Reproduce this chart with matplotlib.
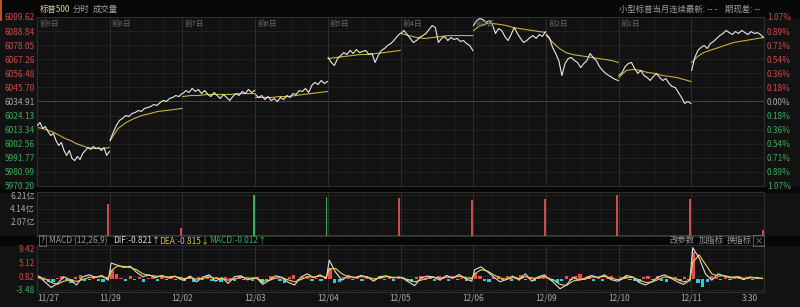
import matplotlib.pyplot as plt
import numpy as np
from matplotlib.patches import Rectangle
from matplotlib.lines import Line2D

plt.rcParams['font.family'] = ['Noto Sans CJK SC', 'DejaVu Sans']

# ---- data ----
days = ['11/27', '11/29', '12/02', '12/03', '12/04', '12/05', '12/06', '12/09', '12/10', '12/11']
day_tags = ['前9日', '前8日', '前7日', '前6日', '前5日', '前4日', '前3日', '前2日', '前1日']
prev_close = 6034.91

price_levels = [6099.62, 6088.84, 6078.05, 6067.26, 6056.48, 6045.70, 6034.91,
                6024.13, 6013.34, 6002.56, 5991.77, 5980.99, 5970.20]
price_labels = ['6099.62', '6088.84', '6078.05', '6067.26', '6056.48', '6045.70', '6034.91',
                '6024.13', '6013.34', '6002.56', '5991.77', '5980.99', '5970.20']
pct_labels = ['1.07%', '0.89%', '0.71%', '0.54%', '0.36%', '0.18%', '0.00%',
              '0.18%', '0.36%', '0.54%', '0.71%', '0.89%', '1.07%']

# 分时价格 (white) per day
price = [
    [6016.5, 6018.8, 6014.2, 6015.8, 6011.9, 6008.9, 6010.4, 6005.0, 6001.2, 6003.5, 5997.4, 5993.6, 5997.4, 5991.3,
     5989.7, 5992.8, 5990.5, 5995.1, 5997.4, 5999.7, 5998.2, 6000.5, 5998.9, 5999.7, 5997.4, 5999.7, 5993.6, 5996.6],
    [6005.0, 6011.2, 6016.5, 6020.4, 6021.9, 6024.2, 6023.4, 6025.7, 6026.5, 6028.0, 6027.3, 6029.6, 6030.3, 6031.1,
     6032.6, 6031.9, 6034.1, 6035.7, 6034.9, 6037.2, 6038.0, 6039.5, 6038.7, 6041.0],
    [6041.0, 6043.3, 6041.8, 6044.9, 6042.6, 6044.1, 6041.0, 6043.3, 6040.3, 6038.7, 6041.8, 6039.5, 6037.2, 6040.3,
     6038.0, 6035.7, 6038.7, 6041.0, 6039.5, 6042.6, 6041.0, 6044.1, 6041.8, 6043.3],
    [6040.3, 6038.0, 6039.5, 6036.4, 6038.7, 6035.7, 6037.2, 6034.9, 6038.0, 6036.4, 6039.5, 6038.0, 6041.0, 6040.3,
     6043.3, 6042.6, 6044.9, 6041.8, 6047.2, 6049.5, 6047.9, 6051.0, 6048.7, 6050.2],
    [6068.6, 6064.8, 6062.5, 6067.8, 6070.1, 6072.4, 6070.9, 6074.0, 6071.7, 6074.7, 6072.4, 6073.2, 6074.0, 6070.9,
     6071.7, 6064.8, 6070.1, 6074.0, 6075.5, 6077.8, 6079.3, 6081.6, 6084.7, 6087.0],
    [6087.0, 6089.3, 6086.2, 6083.2, 6080.1, 6081.6, 6083.9, 6085.4, 6087.0, 6090.0, 6093.1, 6091.6, 6080.1, 6083.2,
     6084.7, 6081.6, 6083.9, 6082.4, 6083.2, 6080.9, 6081.6, 6079.3, 6077.8, 6074.0],
    [6093.1, 6096.9, 6098.5, 6097.7, 6095.4, 6096.9, 6093.9, 6087.0, 6090.8, 6089.3, 6084.7, 6081.6, 6086.2, 6091.6,
     6087.0, 6083.2, 6080.1, 6081.6, 6083.9, 6085.4, 6083.2, 6086.2, 6084.7, 6088.5],
    [6086.2, 6083.9, 6076.3, 6071.7, 6066.3, 6054.8, 6064.0, 6067.8, 6068.6, 6066.3, 6064.8, 6060.9, 6064.0, 6066.3,
     6071.7, 6068.6, 6066.3, 6061.7, 6058.7, 6056.4, 6054.8, 6053.3, 6051.8, 6051.0],
    [6054.8, 6057.1, 6061.7, 6064.0, 6064.8, 6060.2, 6056.4, 6058.7, 6054.8, 6053.3, 6051.0, 6054.1, 6056.4, 6053.3,
     6051.0, 6052.5, 6048.7, 6046.4, 6045.6, 6041.8, 6038.0, 6033.4, 6034.9, 6033.4],
    [6058.7, 6068.6, 6074.0, 6076.3, 6077.8, 6075.5, 6079.3, 6080.9, 6083.2, 6085.4, 6087.0, 6089.3, 6087.7, 6086.2,
     6088.5, 6087.0, 6089.3, 6087.7, 6086.2, 6088.5, 6087.0, 6087.7, 6086.2, 6083.9],
]

# 均价 (yellow) per day
avg = [
    [6015.0, 6014.2, 6012.7, 6011.2, 6008.9, 6006.6, 6005.0, 6002.7, 6001.2, 5999.7, 5998.9, 5998.9, 5998.9, 5999.7],
    [6005.0, 6014.2, 6018.8, 6021.9, 6024.2, 6025.7, 6027.3, 6028.0, 6028.8, 6029.6],
    [6038.7, 6039.5, 6039.5, 6040.3, 6040.3, 6040.3, 6040.3, 6041.0, 6041.0, 6041.0],
    [6038.0, 6038.0, 6038.0, 6038.7, 6038.7, 6039.5, 6040.3, 6041.0, 6041.8, 6042.6],
    [6067.8, 6068.6, 6069.4, 6070.1, 6070.9, 6070.9, 6071.7, 6072.4, 6073.2, 6074.0],
    [6087.0, 6085.4, 6083.9, 6083.2, 6083.9, 6084.7, 6085.4, 6085.4, 6085.4, 6085.4],
    [6089.3, 6093.1, 6094.6, 6094.6, 6093.9, 6093.1, 6091.6, 6090.8, 6090.0, 6089.3, 6088.5, 6087.8],
    [6085.4, 6080.1, 6075.5, 6072.4, 6070.9, 6070.1, 6069.4, 6068.6, 6067.8, 6067.1, 6066.3, 6064.8],
    [6053.3, 6058.7, 6059.4, 6058.7, 6057.1, 6056.4, 6054.8, 6054.1, 6053.3, 6051.8, 6050.2],
    [6064.8, 6069.4, 6072.4, 6074.0, 6075.5, 6077.0, 6078.6, 6080.1, 6080.9, 6081.6, 6082.4, 6083.2, 6083.9],
]

# 成交量 (亿): closing spike of each day, and the thin base level
vol_close = [4.83, 1.15, 6.2, 5.9, 5.75, 5.45, 5.6, 6.2, 5.6, 0.85]
vol_up = [True, True, False, False, True, True, True, True, True, True]
base_vol = [0.12, 0.10, 0.10, 0.12, 0.10, 0.10, 0.12, 0.10, 0.12, 0.10]
vol_ticks = [2.07, 4.14, 6.21]
vol_labels = ['2.07亿', '4.14亿', '6.21亿']

# MACD (12,26,9)
dif = [
    [0.8, -1.0, -2.8, -1.5, 0.5, -0.3, -2.0, 0.6, 1.2, 0.4, 1.0, -0.5],
    [4.9, 4.2, 3.5, 3.9, 2.0, 0.6, 1.2, 0.3, 1.0, 0.2, 0.8, -0.3],
    [-0.5, 0.8, -1.0, 0.5, 1.2, -0.8, 0.3, -1.5, 0.6, 0.9, -0.4, 0.2],
    [0.2, -1.8, -0.5, 0.9, 0.4, -1.2, -2.0, 0.5, 1.5, 0.3, 1.2, 0.0],
    [5.8, 2.0, -0.5, 0.8, 0.2, 1.0, 0.5, -0.8, 0.6, 0.9, 0.2, 0.5],
    [0.3, -1.0, -2.2, 0.2, 0.8, 0.5, -0.5, 1.0, 0.2, 1.3, 0.0, -0.8],
    [2.8, 3.7, 2.2, 0.5, -1.0, -0.3, 0.8, -0.5, 1.5, -0.8, 0.5, 1.2],
    [0.3, -1.2, -3.2, -2.0, 0.4, -0.5, 0.2, 1.0, 0.3, 1.2, -0.3, -0.8],
    [-0.5, 1.0, 0.5, -1.2, -2.0, -1.0, 0.5, 1.2, 0.2, -1.0, -1.8, -0.5],
    [9.7, 6.5, 1.5, -0.5, 1.5, 0.8, 0.2, 0.6, -0.3, 0.5, 0.2, 0.0],
]
dea = [
    [0.5, 0.0, -1.2, -1.8, -0.8, -0.4, -0.9, -0.3, 0.4, 0.5, 0.6, 0.1],
    [2.5, 4.0, 3.8, 3.5, 2.8, 1.5, 1.0, 0.8, 0.7, 0.5, 0.6, 0.3],
    [0.0, 0.3, -0.2, 0.1, 0.5, 0.1, 0.0, -0.5, -0.1, 0.4, 0.2, 0.1],
    [0.1, -0.8, -0.6, 0.2, 0.3, -0.4, -1.0, -0.3, 0.6, 0.5, 0.8, 0.4],
    [3.0, 3.2, 1.5, 0.6, 0.4, 0.6, 0.5, -0.1, 0.2, 0.6, 0.4, 0.3],
    [0.2, -0.3, -1.0, -0.5, 0.2, 0.4, 0.1, 0.5, 0.3, 0.7, 0.4, -0.1],
    [1.5, 2.8, 2.4, 1.2, 0.2, -0.2, 0.3, 0.0, 0.6, 0.1, 0.2, 0.7],
    [0.2, -0.4, -1.8, -2.2, -0.8, -0.4, -0.1, 0.5, 0.4, 0.7, 0.2, -0.3],
    [-0.3, 0.3, 0.4, -0.4, -1.2, -1.1, -0.3, 0.5, 0.4, -0.3, -1.0, -0.7],
    [5.0, 7.5, 4.5, 1.5, 0.8, 0.9, 0.5, 0.4, 0.1, 0.3, 0.2, 0.1],
]
hist = [
    [0.8, -0.5, -1.2, -1.0, 0.3, 0.9, -0.4, -1.5, 0.6, 1.0, -0.8, -0.3, 0.7, -0.6, -1.2, 0.4],
    [2.8, 1.5, 0.2, -0.6, 0.8, -0.4, 0.5, -1.0, 0.3, 0.6, -0.8, 0.4, -0.5, 0.9, -0.3, 0.2],
    [-0.6, 0.7, -1.0, 0.4, -0.3, 1.2, -0.8, 0.5, -1.1, 0.6, 0.3, -0.7, 0.8, -0.4, 0.2, -0.9],
    [0.5, -1.3, -0.4, 0.9, 0.3, -0.8, -1.4, 0.6, 1.1, -0.5, 0.4, 0.8, -0.6, 0.3, -0.9, 0.5],
    [3.2, -1.5, -1.0, 0.5, 1.0, -0.4, 0.6, -0.8, 0.9, 0.3, -0.5, 0.8, -0.3, 0.4, -0.6, 0.2],
    [0.4, -0.9, -1.2, 0.6, 0.8, -0.3, 0.5, -0.7, 0.9, 0.4, -0.6, 0.7, -0.4, 0.3, -0.8, 0.5],
    [1.8, 0.9, -0.6, -1.0, 0.4, 0.8, -0.5, 0.7, -0.9, 0.5, 1.0, -0.4, 0.6, -0.7, 0.3, 0.8],
    [0.3, -0.8, -1.5, -0.6, 0.9, -0.4, 0.7, 1.3, -0.5, 0.8, -0.9, 0.4, -0.6, 0.3, 0.7, -0.5],
    [0.6, 0.9, -0.4, -0.8, -1.0, 0.4, 0.7, -0.5, 0.9, -0.6, -1.2, 0.3, 0.5, -0.8, 0.4, -0.3],
    [8.5, -1.5, -2.6, -1.2, 0.8, 0.5, -0.4, 0.6, -0.3, 0.4, 0.7, -0.5, 0.3, -0.4, 0.5, -0.2],
]
macd_ticks = [9.42, 5.12, 0.82, -3.48]
macd_labels = ['9.42', '5.12', '0.82', '-3.48']

# ---- colours ----
BG = '#121212'
BAND = '#070707'
RED = '#cf4a4a'
GREEN = '#3aad5a'
GRAY = '#a8a8a8'
GRID = '#242424'

W, H = 800, 307
fig = plt.figure(figsize=(W / 100, H / 100), dpi=100, facecolor=BG)


def box(x0, y0, x1, y1):
    # pixel box -> figure fraction
    return [x0 / W, 1 - y1 / H, (x1 - x0) / W, (y1 - y0) / H]


# dark bands between the panels (behind the axes and their labels)
for y0, y1 in [(0, 16.5), (187, 191.5), (236, 244.5)]:
    fig.patches.append(Rectangle((0, 1 - y1 / H), 1, (y1 - y0) / H, transform=fig.transFigure,
                                 color=BAND, zorder=-5))
fig.add_artist(Line2D([0.0015, 0.0015], [1, 1 - 20 / H], color='#e0622a', lw=1.2))

ax = fig.add_axes(box(37, 17, 764, 186))
ax_v = fig.add_axes(box(37, 192, 764, 235.5))
ax_m = fig.add_axes(box(37, 245, 764, 292))


def style(a):
    a.set_facecolor(BG)
    for s in a.spines.values():
        s.set_color('#2e2e2e')
        s.set_linewidth(0.8)
    a.set_xlim(0, 10)
    a.set_xticks([])
    a.tick_params(length=0, labelsize=6, pad=1.5)
    for d in range(1, 10):
        a.axvline(d, color='#2e2e2e', lw=0.7, zorder=1)
    for d in range(10):
        for q in (0.25, 0.5, 0.75):
            a.axvline(d + q, color='#1e1e1e', lw=0.5, zorder=0.5)


for a in (ax, ax_v, ax_m):
    style(a)

# ---- price panel ----
ax.set_ylim(price_levels[-1], price_levels[0])
for lv in price_levels:
    ax.axhline(lv, color='#505050' if lv == prev_close else GRID, lw=0.6, zorder=0.8)
ax.set_yticks(price_levels, price_labels)
for i, t in enumerate(ax.get_yticklabels()):
    t.set_color(RED if i < 6 else (GRAY if i == 6 else GREEN))

ax_r = ax.twinx()
ax_r.set_ylim(ax.get_ylim())
ax_r.set_yticks(price_levels, pct_labels)
ax_r.tick_params(length=0, labelsize=6, pad=2)
for s in ax_r.spines.values():
    s.set_visible(False)
for i, t in enumerate(ax_r.get_yticklabels()):
    t.set_color(RED if i < 6 else (GRAY if i == 6 else GREEN))

for d in range(10):
    xs = d + np.linspace(0.005, 0.995, len(price[d]))
    ax.plot(xs, price[d], color='#e8e8e8', lw=0.8, zorder=3)
    xa = d + np.linspace(0.005, 0.995, len(avg[d]))
    ax.plot(xa, avg[d], color='#c6b23a', lw=0.8, zorder=2)

for d, tag in enumerate(day_tags):
    ax.text(d + 0.03, price_levels[0] - 5.4, tag, color='#6a6a6a', fontsize=5.5, va='center', zorder=4)

# ---- volume panel ----
ax_v.set_ylim(0, 6.67)
for lv in vol_ticks:
    ax_v.axhline(lv, color=GRID, lw=0.6, zorder=0.8)
ax_v.set_yticks(vol_ticks, vol_labels)
for t in ax_v.get_yticklabels():
    t.set_color(GRAY)
for d in range(10):
    ax_v.fill_between([d, d + 1], 0, base_vol[d], color='#5c2f2f', lw=0, zorder=2)
    ax_v.bar(d + 0.982, vol_close[d], width=0.026, color=RED if vol_up[d] else GREEN, lw=0, zorder=3)

# ---- MACD panel ----
ax_m.set_ylim(-4.21, 10.57)
for lv in macd_ticks:
    ax_m.axhline(lv, color=GRID, lw=0.6, zorder=0.8)
ax_m.set_yticks(macd_ticks, macd_labels)
for t, c in zip(ax_m.get_yticklabels(), [RED, RED, RED, GREEN]):
    t.set_color(c)

hx, hv, lx, ldif, ldea = [], [], [], [], []
for d in range(10):
    hx += list(d + (np.arange(len(hist[d])) + 0.5) / len(hist[d]))
    hv += hist[d]
    lx += list(d + np.linspace(0.02, 0.98, len(dif[d])))
    ldif += dif[d]
    ldea += dea[d]
ax_m.bar(hx, hv, width=0.045, color=['#e05252' if v > 0 else '#1fd2e0' for v in hv], lw=0, zorder=2)
ax_m.plot(lx, ldif, color='#dedede', lw=0.8, zorder=3)
ax_m.plot(lx, ldea, color='#e4d456', lw=0.8, zorder=3)

# x labels under the MACD panel
xtr = ax_m.get_xaxis_transform()
ax_m.text(0.0, -0.13, days[0], transform=xtr, ha='left', va='center', color=GRAY, fontsize=6)
for d in range(1, 10):
    ax_m.text(d, -0.13, days[d], transform=xtr, ha='center', va='center', color=GRAY, fontsize=6)
ax_m.text(9.81, -0.13, '3:30', transform=xtr, ha='center', va='center', color=GRAY, fontsize=6)


# ---- header texts ----
def ptext(x, y, s, color, **kw):
    fig.text(x / W, 1 - y / H, s, color=color, fontsize=6, va='center', **kw)


ptext(40, 9.5, '标普500', '#d6cfa0')
ptext(73, 9.5, '分时', '#a0a0a0')
ptext(93, 9.5, '成交量', '#a0a0a0')
ptext(760, 9.5, '小型标普当月连续最新: -- -    期现差: --', '#a0a0a0', ha='right')

ptext(42.5, 240.5, '?', '#9a9a9a', ha='center',
      bbox=dict(boxstyle='square,pad=0.15', fc='none', ec='#6a6a6a', lw=0.6))
ptext(49, 240.5, 'MACD (12,26,9)', '#9a9a9a')
ptext(113, 240.5, 'DIF:-0.821↑', '#d8d8d8')
ptext(159, 240.5, 'DEA:-0.815↓', '#dccb4a')
ptext(209, 240.5, 'MACD:-0.012↑', GREEN)
ptext(670, 240.5, '改参数', '#9a9a9a')
ptext(699, 240.5, '加指标', '#9a9a9a')
ptext(727, 240.5, '换指标', '#9a9a9a')
ptext(758.5, 240.5, '×', '#9a9a9a', ha='center',
      bbox=dict(boxstyle='square,pad=0.15', fc='none', ec='#6a6a6a', lw=0.6))

fig.savefig('out.png', dpi=100, facecolor=BG)
